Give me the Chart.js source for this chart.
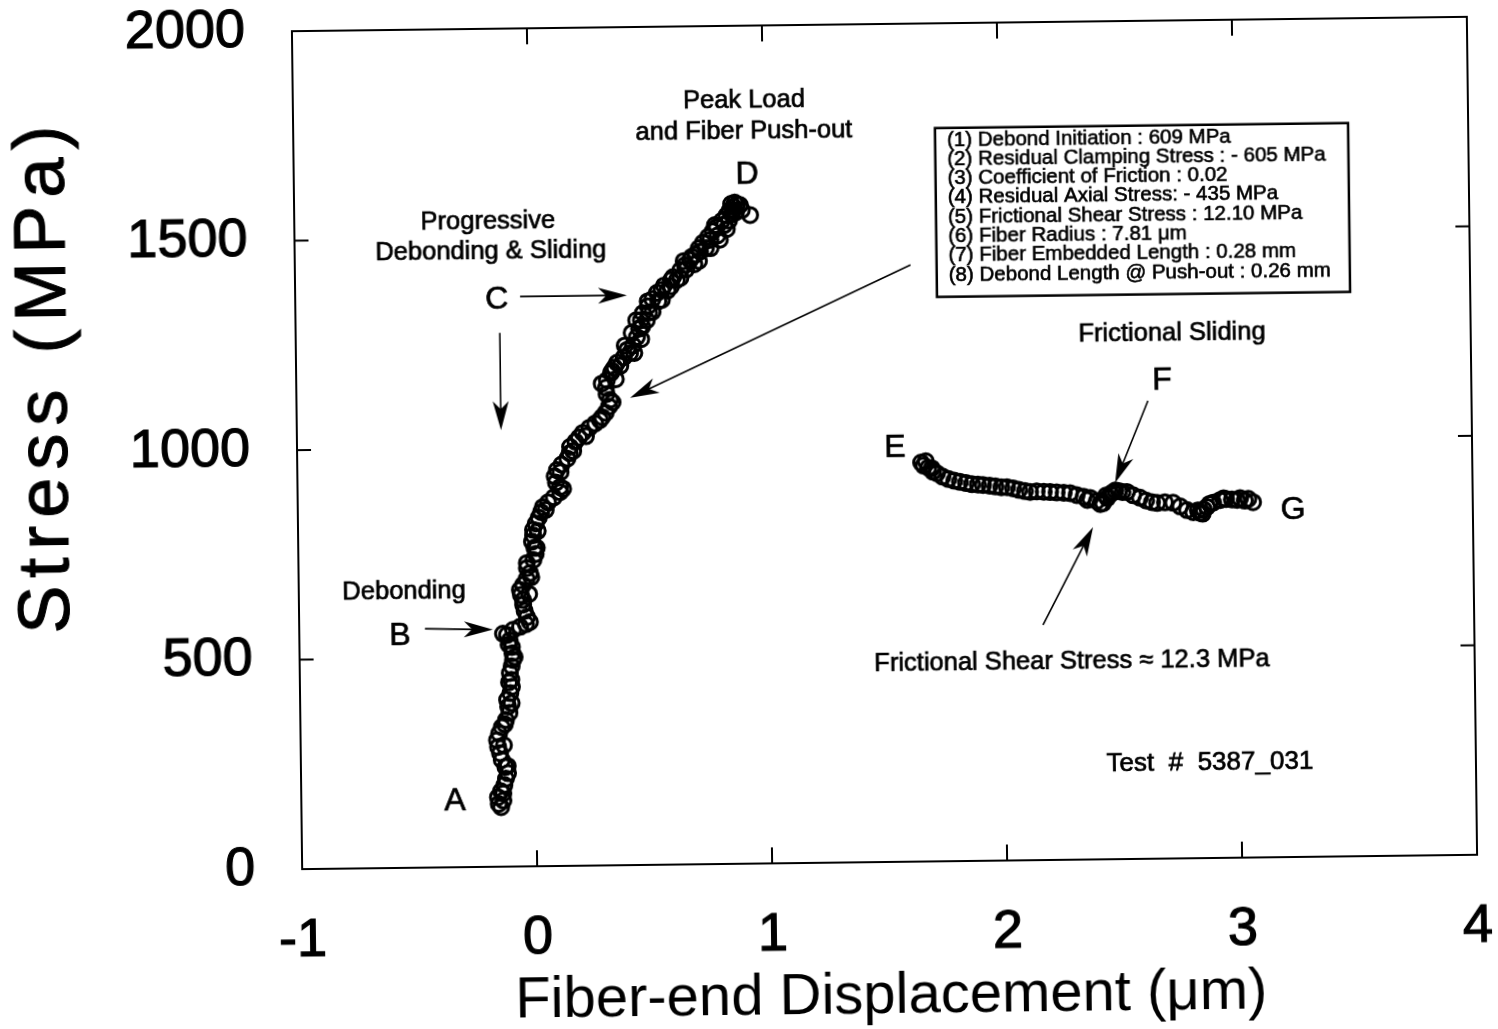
<!DOCTYPE html>
<html>
<head>
<meta charset="utf-8">
<script src="https://cdn.jsdelivr.net/npm/chart.js@4.4.0/dist/chart.umd.min.js"></script>
<style>
  html, body { margin: 0; padding: 0; background: #fff; overflow: hidden; }
  /* the scanned figure is slightly tilted */
  #wrap { width: 1498px; height: 1029px; transform: rotate(-0.7deg); transform-origin: 883px 443px; }
</style>
</head>
<body>
<div id="wrap"><canvas id="myChart" width="1498" height="1029"></canvas></div>
<script>
// Loading branch A -> D (fiber-end displacement in um, stress in MPa)
const loadX = [
  -0.150, -0.160, -0.140, -0.163, -0.150, -0.135, -0.128, -0.119, -0.130, -0.145,
  -0.152, -0.160, -0.164, -0.155, -0.143, -0.125, -0.110, -0.115, -0.119, -0.105,
  -0.098, -0.100, -0.106, -0.098, -0.092, -0.094, -0.096, -0.105, -0.116, -0.133,
  -0.090, -0.060, -0.035, -0.018, -0.030, -0.040, -0.046, -0.046, -0.055, -0.059,
  -0.045, -0.030, -0.015, -0.028, -0.028, 0.000, 0.010, 0.005, -0.005, 0.000,
  0.000, 0.012, 0.025, 0.035, 0.043, 0.065, 0.090, 0.117, 0.117, 0.100,
  0.095, 0.105, 0.125, 0.150, 0.160, 0.162, 0.185, 0.200, 0.217, 0.245,
  0.270, 0.290, 0.315, 0.330, 0.334, 0.320, 0.318, 0.322, 0.340, 0.355,
  0.366, 0.395, 0.422, 0.435, 0.452, 0.462, 0.470, 0.479, 0.500, 0.520,
  0.540, 0.570, 0.609, 0.640, 0.660, 0.682, 0.705, 0.720, 0.738, 0.760,
  0.780, 0.798, 0.820, 0.840, 0.854, 0.870, 0.885, 0.897,
  0.360, 0.380, 0.440, 0.470, 0.495, 0.520, 0.560, 0.600, 0.640, 0.700,
  0.750, 0.800, 0.850, 0.880, 0.905,
  -0.140, -0.120, -0.135, -0.130, -0.100, -0.110, -0.085, -0.110,
  -0.020, -0.010, 0.015, 0.020, 0.055, 0.130, 0.120, 0.175, 0.230, 0.300,
  0.345, 0.300, 0.345, 0.410, 0.475, 0.505, 0.545, 0.585, 0.625, 0.665,
  0.690, 0.725, 0.770, 0.790, 0.830, 0.862, 0.875, 0.860,
  0.655, 0.720, 0.600, 0.560, 0.500, 0.450, 0.430, 0.400, 0.770, 0.810,
  0.840, 0.870,
  0.940
];
const loadY = [
  142, 150, 158, 166, 180, 195, 210, 223, 238, 255,
  271, 286, 302, 318, 333, 350, 367, 382, 398, 414,
  429, 446, 462, 478, 493, 509, 524, 540, 553, 556,
  565, 572, 578, 583, 595, 610, 625, 636, 648, 660,
  672, 686, 700, 712, 724, 731, 745, 760, 775, 790,
  803, 818, 832, 845, 857, 868, 880, 892, 904, 915,
  930, 945, 958, 972, 985, 1000, 1012, 1022, 1033, 1045,
  1055, 1063, 1080, 1095, 1111, 1125, 1140, 1158, 1175, 1188,
  1199, 1212, 1222, 1240, 1260, 1280, 1300, 1317, 1333, 1350,
  1365, 1382, 1402, 1418, 1430, 1442, 1455, 1470, 1483, 1497,
  1510, 1520, 1535, 1548, 1560, 1568, 1574, 1572,
  1160, 1192, 1222, 1255, 1300, 1320, 1348, 1380, 1400, 1432,
  1470, 1500, 1535, 1555, 1560,
  175, 240, 290, 340, 390, 440, 500, 530,
  650, 690, 760, 800, 850, 900, 940, 990, 1025, 1070,
  1105, 1150, 1180, 1230, 1285, 1318, 1345, 1370, 1395, 1420,
  1450, 1462, 1490, 1525, 1525, 1550, 1578, 1575,
  1440, 1440, 1395, 1372, 1345, 1300, 1270, 1240, 1470, 1490,
  1515, 1560,
  1548
];

// Frictional sliding branch E -> G
const slideX = [
  1.655, 1.665, 1.685, 1.705, 1.722, 1.745, 1.770, 1.795, 1.819, 1.845,
  1.870, 1.895, 1.917, 1.945, 1.970, 1.995, 2.019, 2.045, 2.070, 2.095,
  2.117, 2.145, 2.175, 2.202, 2.230, 2.260, 2.287, 2.315, 2.345, 2.372,
  2.400, 2.427, 2.445, 2.460, 2.470, 2.495, 2.510, 2.529, 2.555, 2.584,
  2.610, 2.635, 2.657, 2.690, 2.725, 2.755, 2.784, 2.810, 2.839, 2.855,
  2.869, 2.895, 2.925, 2.950, 2.975, 2.997, 3.030, 3.065,
  1.675, 1.700, 2.360, 2.415, 2.440, 2.480, 2.830, 2.850, 2.880, 2.940,
  3.010, 3.045
];
const slideY = [
  952, 945, 940, 930, 926, 918, 912, 908, 905, 902,
  899, 898, 897, 895, 893, 891, 891, 888, 884, 881,
  879, 880, 879, 878, 877, 876, 875, 870, 866, 863,
  855, 850, 862, 872, 876, 878, 876, 876, 868, 862,
  855, 851, 849, 850, 849, 840, 831, 826, 824, 832,
  838, 848, 854, 856, 855, 854, 852, 848,
  955, 938, 858, 848, 868, 880, 830, 822, 845, 858,
  858, 856
];

const xTicks = [-1, 0, 1, 2, 3, 4];
const yTicks = [0, 500, 1000, 1500, 2000];

const legendLines = [
  '(1) Debond Initiation : 609 MPa',
  '(2) Residual Clamping Stress : - 605 MPa',
  '(3) Coefficient of Friction : 0.02',
  '(4) Residual Axial Stress: - 435 MPa',
  '(5) Frictional Shear Stress : 12.10 MPa',
  '(6) Fiber Radius : 7.81 \u03bcm',
  '(7) Fiber Embedded Length : 0.28 mm',
  '(8) Debond Length @ Push-out : 0.26 mm'
];

// text notes, placed in data units
const notes = [
  { text: 'Peak Load', x: 0.92, y: 1820, size: 25.5 },
  { text: 'and Fiber Push-out', x: 0.918, y: 1746, size: 25.5 },
  { text: 'D', x: 0.929, y: 1644, size: 32 },
  { text: 'Progressive', x: -0.176, y: 1539, size: 25.5 },
  { text: 'Debonding & Sliding', x: -0.165, y: 1468, size: 25.5 },
  { text: 'C', x: -0.142, y: 1352, size: 32 },
  { text: 'Debonding', x: -0.552, y: 658, size: 25.5 },
  { text: 'B', x: -0.572, y: 553, size: 32 },
  { text: 'A', x: -0.346, y: 156, size: 32 },
  { text: 'Frictional Sliding', x: 2.729, y: 1252, size: 25.5 },
  { text: 'F', x: 2.684, y: 1140, size: 32 },
  { text: 'E', x: 1.544, y: 988, size: 32 },
  { text: 'G', x: 3.235, y: 828, size: 32 },
  { text: 'Frictional Shear Stress \u2248 12.3 MPa', x: 2.286, y: 472, size: 25.5 },
  { text: 'Test  #  5387_031', x: 2.868, y: 227, size: 26 }
];

const arrows = [
  { x1: -0.043, y1: 1360, x2: 0.412, y2: 1360 },
  { x1: -0.131, y1: 1274, x2: -0.131, y2: 1042 },
  { x1: -0.465, y1: 570, x2: -0.176, y2: 566 },
  { x1: 1.620, y1: 1424, x2: 0.420, y2: 1115 },
  { x1: 2.623, y1: 1093, x2: 2.479, y2: 898 },
  { x1: 2.165, y1: 561, x2: 2.383, y2: 793 }
];

Chart.defaults.font.family = '"Liberation Sans", Arial, Helvetica, sans-serif';
Chart.defaults.color = '#000';

function drawArrow(ctx, x1, y1, x2, y2) {
  const ang = Math.atan2(y2 - y1, x2 - x1);
  const len = 29, half = 8;
  ctx.beginPath();
  ctx.moveTo(x1, y1);
  ctx.lineTo(x2 - Math.cos(ang) * len * 0.7, y2 - Math.sin(ang) * len * 0.7);
  ctx.stroke();
  ctx.save();
  ctx.translate(x2, y2);
  ctx.rotate(ang);
  ctx.beginPath();
  ctx.moveTo(0, 0);
  ctx.lineTo(-len, -half);
  ctx.lineTo(-len * 0.72, 0);
  ctx.lineTo(-len, half);
  ctx.closePath();
  ctx.fill();
  ctx.restore();
}

// filled text with a thin outline, the scan prints everything a bit heavy
function heavyText(ctx, t, px, py, w) {
  ctx.lineWidth = w;
  ctx.strokeText(t, px, py);
  ctx.fillText(t, px, py);
}

const decorations = {
  id: 'decorations',
  afterDraw(chart) {
    const { ctx, chartArea: a, scales: { x, y } } = chart;
    const fam = Chart.defaults.font.family;
    ctx.save();
    ctx.strokeStyle = '#000';
    ctx.fillStyle = '#000';

    // frame with inward tick marks
    ctx.lineWidth = 2;
    ctx.strokeRect(a.left, a.top, a.right - a.left, a.bottom - a.top);
    ctx.beginPath();
    xTicks.slice(1, -1).forEach(v => {
      const px = x.getPixelForValue(v);
      ctx.moveTo(px, a.bottom); ctx.lineTo(px, a.bottom - 16);
      ctx.moveTo(px, a.top); ctx.lineTo(px, a.top + 16);
    });
    yTicks.slice(1, -1).forEach(v => {
      const py = y.getPixelForValue(v);
      ctx.moveTo(a.left, py); ctx.lineTo(a.left + 14, py);
      ctx.moveTo(a.right, py); ctx.lineTo(a.right - 14, py);
    });
    ctx.stroke();

    // y axis title, sits above the middle of the axis in the original
    ctx.save();
    ctx.translate(a.left - 250, y.getPixelForValue(1185));
    ctx.rotate(-Math.PI / 2);
    ctx.font = '72px ' + fam;
    ctx.letterSpacing = '8px';
    ctx.textAlign = 'center';
    ctx.textBaseline = 'middle';
    heavyText(ctx, 'Stress (MPa)', 0, 0, 1);
    ctx.restore();

    // notes
    ctx.textAlign = 'center';
    ctx.textBaseline = 'middle';
    notes.forEach(n => {
      ctx.font = n.size + 'px ' + fam;
      heavyText(ctx, n.text, x.getPixelForValue(n.x), y.getPixelForValue(n.y), 0.7);
    });

    // arrows
    ctx.lineWidth = 1.6;
    arrows.forEach(r => drawArrow(ctx,
      x.getPixelForValue(r.x1), y.getPixelForValue(r.y1),
      x.getPixelForValue(r.x2), y.getPixelForValue(r.y2)));

    // parameter box
    const bx1 = x.getPixelForValue(1.731), by1 = y.getPixelForValue(1750);
    const bx2 = x.getPixelForValue(3.489), by2 = y.getPixelForValue(1347);
    ctx.fillStyle = '#fff';
    ctx.fillRect(bx1, by1, bx2 - bx1, by2 - by1);
    ctx.lineWidth = 2.5;
    ctx.strokeRect(bx1, by1, bx2 - bx1, by2 - by1);
    ctx.fillStyle = '#000';
    ctx.font = '20.5px ' + fam;
    ctx.textAlign = 'left';
    const lx = x.getPixelForValue(1.782), ly = y.getPixelForValue(1721);
    legendLines.forEach((t, i) => heavyText(ctx, t, lx, ly + i * 19.3, 0.6));

    ctx.restore();
  }
};

const ctx = document.getElementById('myChart').getContext('2d');
new Chart(ctx, {
  type: 'scatter',
  data: {
    datasets: [
      {
        label: 'Loading',
        data: loadX.map((v, i) => ({ x: v, y: loadY[i] })),
        pointRadius: 7.5,
        pointBorderWidth: 3,
        pointBorderColor: '#000',
        pointBackgroundColor: 'rgba(0,0,0,0)'
      },
      {
        label: 'Sliding',
        data: slideX.map((v, i) => ({ x: v, y: slideY[i] })),
        pointRadius: 7.5,
        pointBorderWidth: 3,
        pointBorderColor: '#000',
        pointBackgroundColor: 'rgba(0,0,0,0)'
      }
    ]
  },
  options: {
    responsive: false,
    animation: false,
    layout: { padding: { left: 0, top: 24, right: 26, bottom: 0 } },
    plugins: { legend: { display: false }, tooltip: { enabled: false } },
    scales: {
      x: {
        type: 'linear',
        min: -1, max: 4,
        afterBuildTicks: s => { s.ticks = xTicks.map(v => ({ value: v })); },
        ticks: { font: { size: 54, lineHeight: 1 }, padding: 45, color: '#000', maxRotation: 0,
                 textStrokeColor: '#000', textStrokeWidth: 1.2,
                 callback: v => String(v) },
        grid: { display: false, drawTicks: false },
        border: { display: false },
        title: {
          display: true,
          text: 'Fiber-end Displacement (\u03bcm)',
          font: { size: 58, lineHeight: 1 },
          color: '#000',
          padding: { top: 0, bottom: 3 }
        },
        afterFit: s => { s.height = 167; s.paddingLeft = 0; s.paddingRight = 0; }
      },
      y: {
        type: 'linear',
        min: 0, max: 2000,
        afterBuildTicks: s => { s.ticks = yTicks.map(v => ({ value: v })); },
        ticks: { font: { size: 54, lineHeight: 1 }, padding: 47, color: '#000',
                 textStrokeColor: '#000', textStrokeWidth: 1.2,
                 callback: v => String(v) },
        grid: { display: false, drawTicks: false },
        border: { display: false },
        afterFit: s => { s.width = 297; s.paddingTop = 0; s.paddingBottom = 0; }
      }
    }
  },
  plugins: [decorations]
});
</script>
</body>
</html>
